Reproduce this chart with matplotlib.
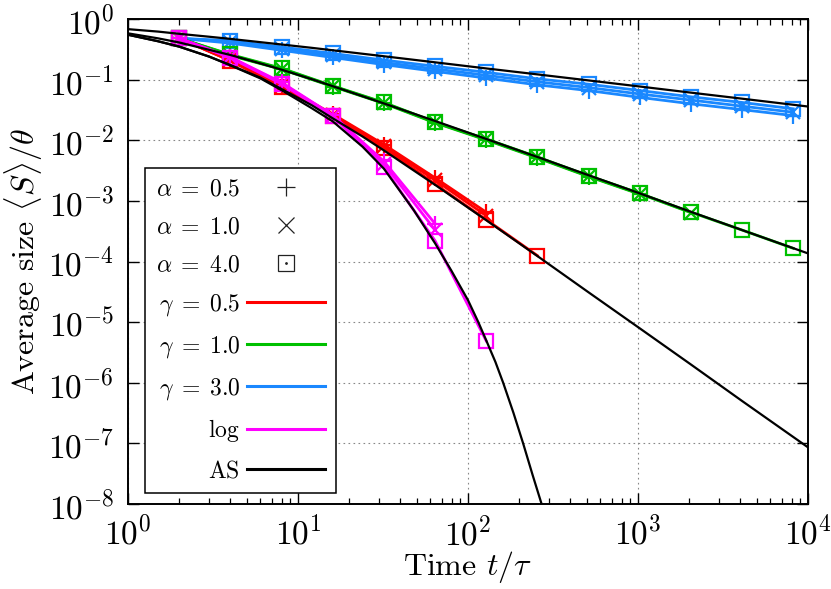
import matplotlib
matplotlib.use("Agg")
import matplotlib.pyplot as plt
from matplotlib.lines import Line2D

plt.rcParams['font.family'] = 'serif'
plt.rcParams['font.serif'] = ['cmr10']
plt.rcParams['mathtext.fontset'] = 'cm'
plt.rcParams['axes.formatter.use_mathtext'] = True

# ---------------- data ----------------
t_pts = [2, 4, 8, 16, 32, 64, 128, 256, 512, 1024, 2048, 4096, 8192]

# gamma = 3.0 (blue)
g3_a4 = [0.48, 0.44, 0.345, 0.27, 0.21, 0.166, 0.132, 0.103, 0.084, 0.066, 0.052, 0.042, 0.033]
g3_a1 = [0.48, 0.42, 0.325, 0.25, 0.192, 0.150, 0.118, 0.092, 0.074, 0.058, 0.046, 0.0365, 0.029]
g3_a05 = [0.48, 0.40, 0.305, 0.232, 0.177, 0.137, 0.106, 0.082, 0.066, 0.051, 0.040, 0.032, 0.0255]

# gamma = 1.0 (green)
g1_a4 = [0.48, 0.26, 0.154, 0.079, 0.042, 0.020, 0.0105, 0.0053, 0.0026, 0.00133, 0.00065, 0.00033, 0.000165]
g1_a1 = [0.48, 0.255, 0.151, 0.078, 0.0413, 0.0197, 0.0103, 0.0052, 0.00256, 0.00131, 0.00064]
g1_a05 = [0.48, 0.25, 0.148, 0.077, 0.0405, 0.0194, 0.0101, 0.0051, 0.00252, 0.00129]

# gamma = 0.5 (red)
g05_a4 = [0.48, 0.205, 0.075, 0.025, 0.0075, 0.0019, 0.00049, 0.000125]
g05_a1 = [0.48, 0.207, 0.078, 0.026, 0.0080, 0.0022, 0.00057]
g05_a05 = [0.48, 0.21, 0.080, 0.027, 0.0085, 0.0024, 0.00065]

# log (magenta)
log_a4 = [0.48, 0.23, 0.085, 0.025, 0.0036, 0.00022, 4.9e-6]
log_a1 = [0.48, 0.232, 0.088, 0.0255, 0.0041, 0.00033]
log_a05 = [0.48, 0.235, 0.090, 0.026, 0.0045, 0.00042]

# asymptotic solutions (black)
as_g3_t = [1, 1.5, 2, 3, 4, 6, 8, 12, 16, 32, 64, 128, 256, 512, 1024, 2048, 4096, 10000]
as_g3_y = [0.68, 0.62, 0.57, 0.51, 0.47, 0.415, 0.38, 0.335, 0.305, 0.243, 0.193, 0.153,
           0.122, 0.097, 0.077, 0.061, 0.0485, 0.036]
as_g1_t = [1, 1.5, 2, 3, 4, 6, 8, 12, 16, 32, 64, 128, 256, 512, 1024, 2048, 4096, 10000]
as_g1_y = [0.58, 0.48, 0.41, 0.31, 0.255, 0.185, 0.146, 0.102, 0.078, 0.0405, 0.0208, 0.0105,
           0.0053, 0.00265, 0.00133, 0.00066, 0.00033, 0.000136]
as_g05_t = [1, 1.5, 2, 3, 4, 6, 8, 12, 16, 24, 32, 64, 128, 256, 512, 1024, 2048, 4096, 10000]
as_g05_y = [0.55, 0.43, 0.35, 0.24, 0.174, 0.108, 0.070, 0.038, 0.023, 0.0115, 0.0068, 0.00184,
            0.00048, 0.000123, 3.1e-5, 7.9e-6, 2.0e-6, 5.0e-7, 8.6e-8]
as_log_t = [1, 1.5, 2, 3, 4, 6, 8, 12, 16, 24, 32, 48, 64, 80, 100, 115, 128, 145, 161, 185,
            211, 240, 271, 300]
as_log_y = [0.55, 0.43, 0.35, 0.24, 0.172, 0.105, 0.067, 0.034, 0.0205, 0.0078, 0.0034, 0.0007,
            0.0002, 7e-5, 2.3e-5, 1.0e-5, 5e-6, 2.2e-6, 1e-6, 3.2e-7, 1e-7, 3.0e-8, 1e-8, 3e-9]

colors = {'g05': '#ff0000', 'g1': '#00c000', 'g3': '#1a88ff', 'log': '#ff00ff'}

# ---------------- plot ----------------
fig = plt.figure(figsize=(8.31, 5.89), dpi=100)
ax = fig.add_axes([128 / 831, 85 / 589, 680 / 831, 485 / 589])

series = [
    ('g3', [g3_a05, g3_a1, g3_a4]),
    ('g1', [g1_a05, g1_a1, g1_a4]),
    ('g05', [g05_a05, g05_a1, g05_a4]),
    ('log', [log_a05, log_a1, log_a4]),
]
mk = [dict(marker='+', ms=12, mew=1.6), dict(marker='x', ms=10, mew=1.6),
      dict(marker='s', ms=10.5, mew=1.6, mfc='none')]
for key, arrs in series:
    for arr, m in zip(arrs, mk):
        ax.plot(t_pts[:len(arr)], arr, color=colors[key], lw=2.0, zorder=3, **m)

for tt, yy in [(as_g3_t, as_g3_y), (as_g1_t, as_g1_y), (as_g05_t, as_g05_y), (as_log_t, as_log_y)]:
    ax.plot(tt, yy, color='black', lw=1.6, zorder=4)

ax.set_xscale('log')
ax.set_yscale('log')
ax.set_xlim(1, 1e4)
ax.set_ylim(1e-8, 1)
ax.set_xticks([1, 10, 100, 1000, 10000])
ax.set_yticks([10.0 ** k for k in range(-8, 1)])

ax.grid(True, which='major', linestyle=(0, (1.5, 3)), color='#888888', lw=0.8)
ax.tick_params(which='both', direction='in', top=True, right=True, labelsize=24)
ax.tick_params(which='major', length=8, width=1.0)
ax.tick_params(axis='y', which='major', pad=10)
ax.tick_params(axis='x', which='major', pad=8)
ax.tick_params(which='minor', length=4.5, width=0.9)
for s in ax.spines.values():
    s.set_linewidth(1.4)

ax.set_xlabel(r'Time $t/\tau$', fontsize=23, labelpad=-1)
ax.set_ylabel(r'Average size $\langle S\rangle/\theta$', fontsize=23, labelpad=2)

handles = [
    Line2D([], [], color='#222222', marker='+', ms=13, mew=0.9, ls='none'),
    Line2D([], [], color='#222222', marker='x', ms=11, mew=0.9, ls='none'),
    (Line2D([], [], color='#222222', marker='s', ms=12, mew=0.9, mfc='none', ls='none'),
     Line2D([], [], color='#222222', marker='o', ms=1, ls='none')),
    Line2D([], [], color=colors['g05'], lw=2.2),
    Line2D([], [], color=colors['g1'], lw=2.2),
    Line2D([], [], color=colors['g3'], lw=2.2),
    Line2D([], [], color=colors['log'], lw=2.2),
    Line2D([], [], color='black', lw=2.2),
]
labels = [r'$\alpha\;=\;0.5$', r'$\alpha\;=\;1.0$', r'$\alpha\;=\;4.0$',
          r'$\gamma\;=\;0.5$', r'$\gamma\;=\;1.0$', r'$\gamma\;=\;3.0$',
          r'log$\quad$', r'AS$\quad$']
leg = ax.legend(handles, labels, loc='lower left', bbox_to_anchor=(0.025, 0.0227),
                borderaxespad=0, markerfirst=False, fontsize=17, labelspacing=0.67,
                handlelength=3.3, handletextpad=0.3, borderpad=0.45, fancybox=False,
                framealpha=1, edgecolor='black')
leg.get_frame().set_linewidth(1.1)
leg.set_zorder(10)

fig.savefig('out.png', dpi=100)
